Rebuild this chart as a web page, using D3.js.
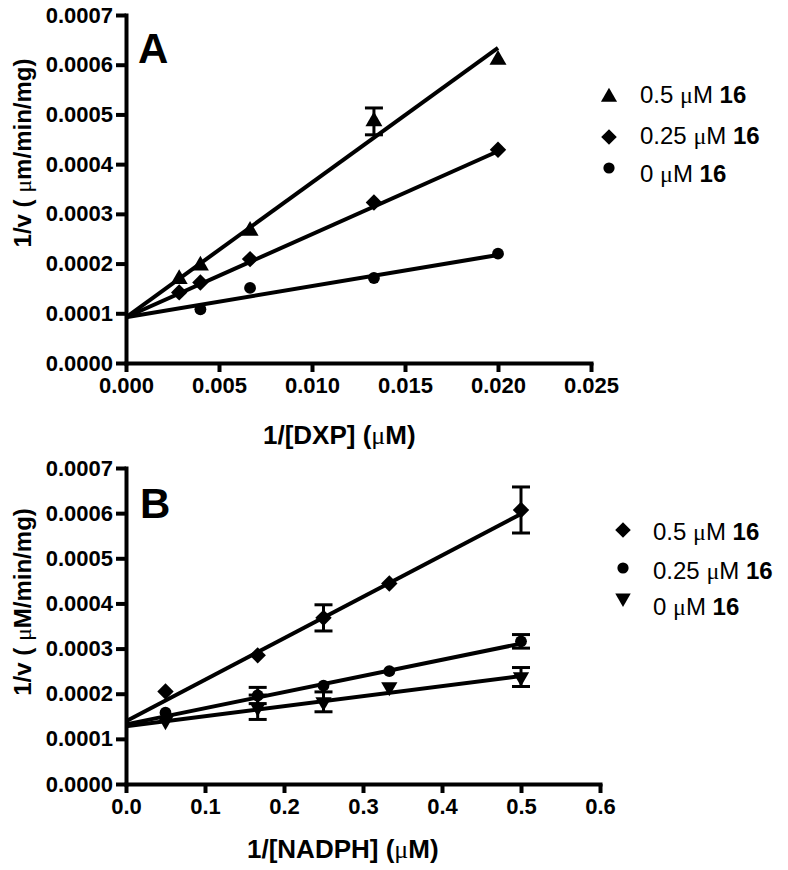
<!DOCTYPE html>
<html><head><meta charset="utf-8">
<script src="https://cdn.jsdelivr.net/npm/d3@7"></script>
<style>body{margin:0;background:#fff}svg{display:block}</style>
</head><body>
<svg id="c" width="788" height="870"></svg>
<script>
// ---------- Panel A data ----------
const xA = [0.00286, 0.004, 0.00667, 0.01333, 0.02];
const aTri = [0.000169, 0.000196, 0.000266, 0.000486, 0.000610];
const aTriErr = [0, 0, 0, 0.000027, 0];
const aDia = [0.000142, 0.000162, 0.000209, 0.000323, 0.000429];
const aCirc = [null, 0.000108, 0.000151, 0.000171, 0.000220];
const aFitIntercept = [0.000092, 0.000092, 0.000092];   // tri, dia, circ
const aFitSlope = [0.0271, 0.0167, 0.00627];
const aXTicks = [0, 0.005, 0.010, 0.015, 0.020, 0.025];
const yTicks = [0, 0.0001, 0.0002, 0.0003, 0.0004, 0.0005, 0.0006, 0.0007];
const aLegend = ["0.5", "0.25", "0"];

// ---------- Panel B data ----------
const xB = [0.05, 0.1667, 0.25, 0.3333, 0.5];
const bDia = [0.000205, 0.000285, 0.000368, 0.000444, 0.000607];
const bDiaErr = [0, 0, 0.000029, 0, 0.000051];
const bCirc = [0.000158, 0.000196, 0.000218, 0.000250, 0.000316];
const bCircErr = [0, 0.000018, 0, 0, 0.000015];
const bTri = [0.000140, 0.000170, 0.000182, 0.000215, 0.000237];
const bTriErr = [0, 0.000027, 0.000022, 0, 0.000021];
const bFitIntercept = [0.000139, 0.000132, 0.000128];  // dia, circ, tri
const bFitSlope = [0.000918, 0.000358, 0.000222];
const bXTicks = [0, 0.1, 0.2, 0.3, 0.4, 0.5, 0.6];
const bLegend = ["0.5", "0.25", "0"];

const svg = d3.select("#c");
svg.append("rect").attr("width", 788).attr("height", 870).attr("fill", "#fff");
const FONT = "'Liberation Sans', Arial, sans-serif";

const shapes = {
  tri: {type: d3.symbolTriangle, size: 125, rot: 0},
  triDown: {type: d3.symbolTriangle, size: 115, rot: 180},
  dia: {type: d3.symbolSquare, size: 135, rot: 45},
  circ: {type: d3.symbolCircle, size: 110, rot: 0}
};

function panel(cfg) {
  const x = d3.scaleLinear().domain(cfg.xDomain).range(cfg.xRange);
  const y = d3.scaleLinear().domain([0, 0.0007]).range(cfg.yRange);
  const g = svg.append("g");

  const yAxis = g.append("g").attr("transform", `translate(${cfg.xRange[0]},0)`)
    .call(d3.axisLeft(y).tickValues(yTicks).tickFormat(d3.format(".4f")).tickSize(10).tickSizeOuter(0).tickPadding(3));
  const xAxis = g.append("g").attr("transform", `translate(0,${cfg.yRange[0]})`)
    .call(d3.axisBottom(x).tickValues(cfg.xTicks).tickFormat(d3.format(cfg.xFmt)).tickSize(9).tickSizeOuter(0).tickPadding(5));
  [yAxis, xAxis].forEach(a => {
    a.select(".domain").attr("stroke", "#000").attr("stroke-width", 4).attr("stroke-linecap", "square");
    a.selectAll(".tick line").attr("stroke", "#000").attr("stroke-width", 4);
    a.selectAll(".tick text").attr("fill", "#000").attr("font-family", FONT)
      .attr("font-weight", "bold").attr("font-size", 22);
  });

  // fit lines
  cfg.series.forEach(s => {
    g.append("line")
      .attr("x1", x(0)).attr("y1", y(s.b))
      .attr("x2", x(cfg.fitEnd)).attr("y2", y(s.b + s.m * cfg.fitEnd))
      .attr("stroke", "#000").attr("stroke-width", 4);
  });
  // error bars
  cfg.series.forEach(s => {
    if (!s.err) return;
    s.vals.forEach((v, i) => {
      const e = s.err[i];
      if (v == null || !e) return;
      const cx = x(cfg.xs[i]);
      g.append("line").attr("x1", cx).attr("x2", cx).attr("y1", y(v - e)).attr("y2", y(v + e))
        .attr("stroke", "#000").attr("stroke-width", 3);
      [v - e, v + e].forEach(t => g.append("line").attr("x1", cx - 9).attr("x2", cx + 9)
        .attr("y1", y(t)).attr("y2", y(t)).attr("stroke", "#000").attr("stroke-width", 3));
    });
  });
  // markers
  cfg.series.forEach(s => {
    const sh = shapes[s.shape];
    s.vals.forEach((v, i) => {
      if (v == null) return;
      g.append("path").attr("d", d3.symbol().type(sh.type).size(sh.size)())
        .attr("transform", `translate(${x(cfg.xs[i])},${y(v)}) rotate(${sh.rot})`)
        .attr("fill", "#000");
    });
  });

  // panel letter
  g.append("text").attr("x", cfg.letterPos[0]).attr("y", cfg.letterPos[1])
    .attr("font-family", FONT).attr("font-weight", "bold").attr("font-size", 42).text(cfg.letter);

  // x title
  const xt = g.append("text").attr("x", cfg.xTitlePos[0]).attr("y", cfg.xTitlePos[1])
    .attr("font-family", FONT).attr("font-weight", "bold").attr("font-size", 26);
  xt.append("tspan").text(cfg.xTitle + " (");
  xt.append("tspan").attr("font-family", "'Liberation Serif', serif").attr("font-weight", "normal").text("μ");
  xt.append("tspan").text("M)");

  // y title
  const yt = g.append("text").attr("transform", `translate(${cfg.yTitlePos[0]},${cfg.yTitlePos[1]}) rotate(-90)`)
    .attr("text-anchor", "middle").attr("font-family", FONT).attr("font-weight", "bold").attr("font-size", 24);
  yt.append("tspan").text("1/v ( ");
  yt.append("tspan").attr("font-family", "'Liberation Serif', serif").attr("font-weight", "normal").text("μ");
  yt.append("tspan").text(cfg.yUnit + "/min/mg)");

  // legend
  cfg.series.forEach((s, i) => {
    const L = cfg.legend[i];
    const sh = shapes[s.shape];
    g.append("path").attr("d", d3.symbol().type(sh.type).size(sh.size * 0.9)())
      .attr("transform", `translate(${L.mx},${L.my}) rotate(${sh.rot})`).attr("fill", "#000");
    const t = g.append("text").attr("x", L.tx).attr("y", L.ty)
      .attr("font-family", FONT).attr("font-size", 24).attr("fill", "#000");
    t.append("tspan").text(s.label + " ");
    t.append("tspan").attr("font-family", "'Liberation Serif', serif").text("μ");
    t.append("tspan").text("M ");
    t.append("tspan").attr("font-weight", "bold").text("16");
  });
}

panel({
  xDomain: [0, 0.025], xRange: [126, 591], yRange: [363, 15],
  xTicks: aXTicks, xFmt: ".3f", xs: xA, fitEnd: 0.02,
  series: [
    {shape: "tri", vals: aTri, err: aTriErr, b: aFitIntercept[0], m: aFitSlope[0], label: aLegend[0]},
    {shape: "dia", vals: aDia, b: aFitIntercept[1], m: aFitSlope[1], label: aLegend[1]},
    {shape: "circ", vals: aCirc, b: aFitIntercept[2], m: aFitSlope[2], label: aLegend[2]}
  ],
  legend: [
    {mx: 609, my: 97, tx: 640, ty: 103},
    {mx: 609, my: 137, tx: 640, ty: 144},
    {mx: 609, my: 168, tx: 640, ty: 182}
  ],
  letter: "A", letterPos: [138, 63],
  xTitle: "1/[DXP]", xTitlePos: [263, 444],
  yTitlePos: [31, 153], yUnit: "m"
});

panel({
  xDomain: [0, 0.6], xRange: [126, 600], yRange: [784, 468],
  xTicks: bXTicks, xFmt: ".1f", xs: xB, fitEnd: 0.5,
  series: [
    {shape: "dia", vals: bDia, err: bDiaErr, b: bFitIntercept[0], m: bFitSlope[0], label: bLegend[0]},
    {shape: "circ", vals: bCirc, err: bCircErr, b: bFitIntercept[1], m: bFitSlope[1], label: bLegend[1]},
    {shape: "triDown", vals: bTri, err: bTriErr, b: bFitIntercept[2], m: bFitSlope[2], label: bLegend[2]}
  ],
  legend: [
    {mx: 623, my: 530, tx: 653, ty: 540},
    {mx: 623, my: 568, tx: 653, ty: 579},
    {mx: 623, my: 598, tx: 653, ty: 615}
  ],
  letter: "B", letterPos: [140, 518],
  xTitle: "1/[NADPH]", xTitlePos: [247, 858],
  yTitlePos: [31, 602], yUnit: "M"
});
</script>
</body></html>
